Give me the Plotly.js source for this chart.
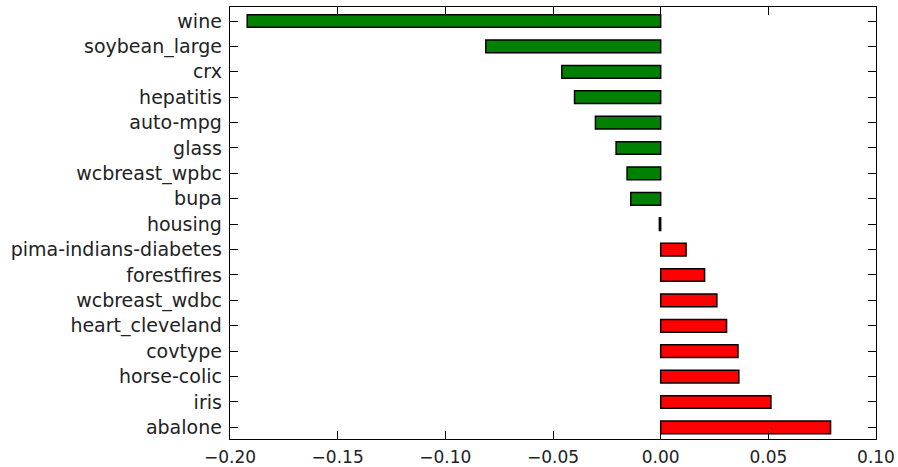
<!DOCTYPE html>
<html>
<head>
<meta charset="utf-8">
<script src="https://cdn.plot.ly/plotly-3.0.1.min.js"></script>
<style>html,body{margin:0;padding:0;background:#fff;}#chart{width:898px;height:467px;}</style>
</head>
<body>
<div id="chart"></div>
<script>
// Datasets, listed top to bottom
const datasets = ["wine","soybean_large","crx","hepatitis","auto-mpg","glass","wcbreast_wpbc","bupa","housing","pima-indians-diabetes","forestfires","wcbreast_wdbc","heart_cleveland","covtype","horse-colic","iris","abalone"];
const values = [-0.192,-0.0812,-0.0459,-0.0400,-0.0303,-0.0207,-0.0156,-0.0139,-0.0006,0.0118,0.0204,0.0261,0.0306,0.0359,0.0363,0.0512,0.0789];
const xTicks = [-0.20,-0.15,-0.10,-0.05,0.00,0.05,0.10];
const xTickText = ["\u22120.20","\u22120.15","\u22120.10","\u22120.05","0.00","0.05","0.10"];

const colors = values.map(v => v < 0 ? "#008000" : "#ff0000");

const trace = {
  type: "bar",
  orientation: "h",
  x: values,
  y: datasets,
  width: 0.5,
  marker: {color: colors, line: {color: "#000", width: 1.5}},
  hoverinfo: "x+y"
};

const axisCommon = {
  showline: true, linecolor: "#000", linewidth: 1.3, mirror: "ticks",
  ticks: "inside", ticklen: 8, tickcolor: "#000", tickwidth: 1,
  showgrid: false, zeroline: false
};

const layout = {
  width: 898, height: 467,
  margin: {l: 230, r: 22, t: 7, b: 28, pad: 0},
  paper_bgcolor: "#fff", plot_bgcolor: "#fff",
  showlegend: false,
  bargap: 0,
  xaxis: Object.assign({}, axisCommon, {
    range: [-0.2, 0.1], tickvals: xTicks, ticktext: xTickText, ticklabelstandoff: 2,
    tickfont: {family: "DejaVu Sans", size: 17, color: "#222"}
  }),
  yaxis: Object.assign({}, axisCommon, {
    type: "category", categoryorder: "array", categoryarray: datasets,
    range: [16.457, -0.551], ticklabelstandoff: 3,
    tickfont: {family: "DejaVu Sans", size: 19, color: "#222"}
  })
};

Plotly.newPlot("chart", [trace], layout, {displayModeBar: false, staticPlot: true});
</script>
</body>
</html>
